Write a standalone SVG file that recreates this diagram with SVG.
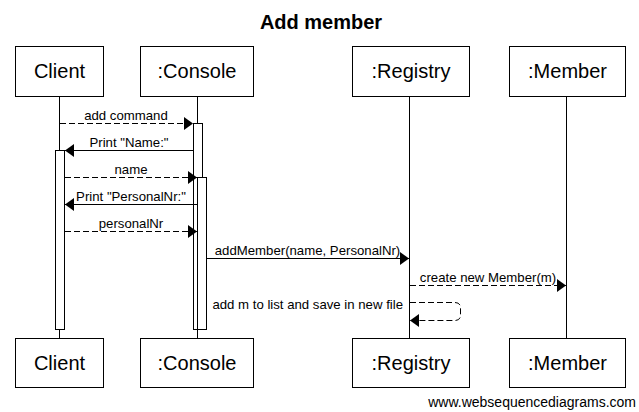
<svg xmlns="http://www.w3.org/2000/svg" width="639" height="412" viewBox="0 0 639 412">
<defs>
<style>
text{font-family:"Liberation Sans",Arial,sans-serif;fill:#000}
.box{fill:#fff;stroke:#000;stroke-width:1}
.pt{font-size:20px;text-anchor:middle}
.life{stroke:#000;stroke-width:1}
.act{fill:#fff;stroke:#000;stroke-width:1}
.msg{fill:none;stroke:#000;stroke-width:1}
.dash{stroke-dasharray:6,3}
.lbl{font-size:13.2px;text-anchor:middle}
</style>
<marker id="ah" viewBox="0 0 9 13" refX="9" refY="6.5" markerWidth="9" markerHeight="13" markerUnits="userSpaceOnUse" orient="auto">
<path d="M0,0 L9,6.5 L0,13 z" fill="#000"/>
</marker>
</defs>
<rect width="639" height="412" fill="#fff"/>
<text x="321" y="29" style="font-size:20px;font-weight:bold;text-anchor:middle">Add member</text>
<g id="lifelines">
<line class="life" x1="59.5" y1="96" x2="59.5" y2="338"/>
<line class="life" x1="197.5" y1="96" x2="197.5" y2="338"/>
<line class="life" x1="409.5" y1="96" x2="409.5" y2="338"/>
<line class="life" x1="566.5" y1="96" x2="566.5" y2="338"/>
</g>
<g id="client">
<rect class="box" x="15.5" y="46.5" width="88" height="50"/>
<text class="pt" x="59.5" y="78">Client</text>
<rect class="box" x="15.5" y="338.5" width="88" height="49"/>
<text class="pt" x="59.5" y="370">Client</text>
<rect class="act" x="55.5" y="150.5" width="9" height="179"/>
</g>
<g id="console">
<rect class="box" x="140.5" y="46.5" width="113" height="50"/>
<text class="pt" x="197" y="78">:Console</text>
<rect class="box" x="140.5" y="338.5" width="113" height="49"/>
<text class="pt" x="197" y="370">:Console</text>
<rect class="act" x="193.5" y="123.5" width="9" height="206"/>
<rect class="act" x="197.5" y="177.5" width="9" height="152"/>
</g>
<g id="registry">
<rect class="box" x="352.5" y="46.5" width="117" height="50"/>
<text class="pt" x="411" y="78">:Registry</text>
<rect class="box" x="352.5" y="338.5" width="117" height="49"/>
<text class="pt" x="411" y="370">:Registry</text>
</g>
<g id="member">
<rect class="box" x="509.5" y="46.5" width="116" height="50"/>
<text class="pt" x="567.5" y="78">:Member</text>
<rect class="box" x="509.5" y="338.5" width="116" height="49"/>
<text class="pt" x="567.5" y="370">:Member</text>
</g>
<g id="connectors">
<line class="msg dash" x1="60" y1="123.5" x2="193" y2="123.5" marker-end="url(#ah)"/>
<text class="lbl" x="126" y="120">add command</text>
<line class="msg" x1="193" y1="150.5" x2="65" y2="150.5" marker-end="url(#ah)"/>
<text class="lbl" x="129" y="147">Print "Name:"</text>
<line class="msg dash" x1="65" y1="177.5" x2="197" y2="177.5" marker-end="url(#ah)"/>
<text class="lbl" x="131" y="174">name</text>
<line class="msg" x1="197" y1="204.5" x2="65" y2="204.5" marker-end="url(#ah)"/>
<text class="lbl" x="131" y="201">Print "PersonalNr:"</text>
<line class="msg dash" x1="65" y1="231.5" x2="197" y2="231.5" marker-end="url(#ah)"/>
<text class="lbl" x="131" y="228">personalNr</text>
<line class="msg" x1="207" y1="258.5" x2="409" y2="258.5" marker-end="url(#ah)"/>
<text class="lbl" x="307.5" y="255">addMember(name, PersonalNr)</text>
<line class="msg dash" x1="410" y1="285.5" x2="566" y2="285.5" marker-end="url(#ah)"/>
<text class="lbl" x="488" y="282">create new Member(m)</text>
<path class="msg dash" d="M410,302.5 H455 Q460.5,302.5 460.5,308 V315 Q460.5,320.5 455,320.5 H410" marker-end="url(#ah)"/>
<text class="lbl" x="403" y="309" style="text-anchor:end">add m to list and save in new file</text>
</g>
<text x="636" y="407" style="font-size:14px;text-anchor:end">www.websequencediagrams.com</text>
</svg>
